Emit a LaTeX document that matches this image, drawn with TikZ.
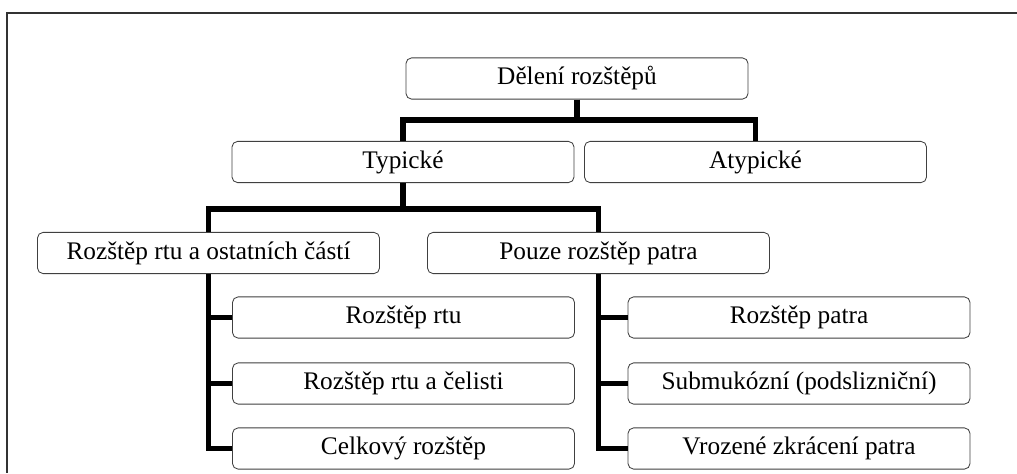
\documentclass[tikz,border=0pt]{standalone}
\usepackage{fontspec}
\setmainfont{Liberation Serif}
\usepackage{tikz}
\usetikzlibrary{positioning}

\begin{document}
\begin{tikzpicture}[
    x=0.025cm, y=-0.025cm,
    box/.style  = {rectangle, rounded corners=4pt, draw=black!75, line width=0.6pt,
                   fill=white, minimum width=8.55cm, minimum height=1.03cm,
                   inner sep=0pt, align=center, font=\fontsize{18}{20}\selectfont},
    conn/.style = {line width=3.6pt, black},
    frame/.style = {line width=1.3pt, black!80}
]
\useasboundingbox (0,0) rectangle (1017,473);

%% ---- frame (top and left edge only) ----
\draw[frame] (1017,13) -- (7,13) -- (7,473);

%% ---- LEVEL 1 / 2 ----
\node[box] (root)  at (577,   78.5) {Dělení rozštěpů};
\node[box] (typ)   at (403,  162)   {Typické};
\node[box] (atyp)  at (755.5,162)   {Atypické};

%% ---- LEVEL 3 ----
\node[box] (rtuost) at (208.5,253) {Rozštěp rtu a ostatních částí};
\node[box] (pouze)  at (598.5,253) {Pouze rozštěp patra};

%% ---- LEAVES: left column ----
\node[box] (rtu)    at (403.5,317.5) {Rozštěp rtu};
\node[box] (rtucel) at (403.5,383.5) {Rozštěp rtu a čelisti};
\node[box] (celk)   at (403.5,448.5) {Celkový rozštěp};

%% ---- LEAVES: right column ----
\node[box] (patra)  at (799,317.5) {Rozštěp patra};
\node[box] (submuk) at (799,383.5) {Submukózní (podslizniční)};
\node[box] (vroz)   at (799,448.5) {Vrozené zkrácení patra};

%% =============================================
%% CONNECTORS
%% =============================================
\coordinate (j1) at (577,120);
\coordinate (j2) at (403,209);

\draw[conn] (root.south) -- (j1);
\draw[conn] (typ.north) |- (j1) -| (atyp.north);

\draw[conn] (typ.south) -- (j2);
\draw[conn] (rtuost.north) |- (j2) -| (pouze.north);

%% left column
\draw[conn] (rtuost.south) |- (celk.west);
\draw[conn] (rtuost.south |- rtu.west) -- (rtu.west);
\draw[conn] (rtuost.south |- rtucel.west) -- (rtucel.west);

%% right column
\draw[conn] (pouze.south) |- (vroz.west);
\draw[conn] (pouze.south |- patra.west) -- (patra.west);
\draw[conn] (pouze.south |- submuk.west) -- (submuk.west);

\end{tikzpicture}
\end{document}
